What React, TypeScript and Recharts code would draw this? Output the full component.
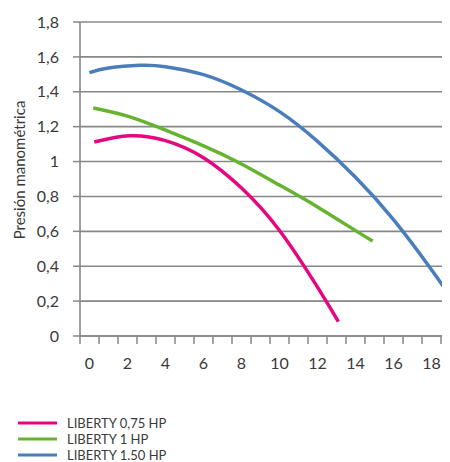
import React from "react";
import { LineChart, Line, XAxis, YAxis, CartesianGrid, Legend } from "recharts";

const flow075 = [0.25, 2.1, 4, 6, 8, 10, 12, 13.1];
const pres075 = [1.112, 1.148, 1.12, 1.022, 0.848, 0.605, 0.28, 0.082];

const flow1 = [0.2, 2, 4, 6, 7.75, 10, 12, 14, 14.9];
const pres1 = [1.307, 1.26, 1.18, 1.09, 1.0, 0.865, 0.74, 0.604, 0.545];

const flow150 = [0, 1, 2.66, 4, 6, 8, 10, 12, 14, 16, 18, 19];
const pres150 = [1.51, 1.536, 1.552, 1.544, 1.498, 1.41, 1.286, 1.116, 0.91, 0.667, 0.38, 0.225];

const yTicks = [0, 0.2, 0.4, 0.6, 0.8, 1, 1.2, 1.4, 1.6, 1.8];
const xLabels = [0, 2, 4, 6, 8, 10, 12, 14, 16, 18];

const toPoints = (xs: number[], ys: number[]) =>
  xs.map((q, i) => ({ q, p: ys[i] }));

const series = [
  { name: "LIBERTY 0,75 HP", color: "#e5077f", data: toPoints(flow075, pres075) },
  { name: "LIBERTY 1 HP", color: "#66b32f", data: toPoints(flow1, pres1) },
  { name: "LIBERTY 1.50 HP", color: "#4a7ebb", data: toPoints(flow150, pres150) },
];

// boundary marks between categories plus the labels in the middle
const xTicks: number[] = [];
for (let i = -0.5; i <= 19.5; i += 0.5) xTicks.push(i);

const FONT = "Lato, 'Noto Sans', sans-serif";
const TEXT = "#3a3a3a";
const GRID = "#878787";

const XTick = (props: any) => {
  const { x, y, payload } = props;
  const v = payload.value;
  if (!Number.isInteger(v)) {
    return <line x1={x} x2={x} y1={y - 22} y2={y - 14} stroke={GRID} strokeWidth={1.5} />;
  }
  if (!xLabels.includes(v)) return <g />;
  return (
    <text x={x} y={y} dy="0.71em" textAnchor="middle" fill={TEXT} fontSize={16} fontFamily={FONT}>
      {v}
    </text>
  );
};

const fmtY = (v: number) => (Number.isInteger(v) ? String(v) : v.toFixed(1).replace(".", ","));

const LegendBox = () => (
  <div style={{ fontFamily: FONT, fontSize: 13, color: TEXT }}>
    {series.map((s) => (
      <div key={s.name} style={{ display: "flex", alignItems: "center", height: 16 }}>
        <svg width={49} height={6}>
          <line x1={0} x2={39} y1={3} y2={3} stroke={s.color} strokeWidth={3} />
        </svg>
        <span style={{ lineHeight: "16px" }}>{s.name}</span>
      </div>
    ))}
  </div>
);

export default function App() {
  return (
    <div style={{ position: "relative", left: -8, top: -8, width: 450, height: 462, overflow: "hidden" }}>
      <LineChart width={470} height={462} margin={{ top: 22, right: 10, left: 0, bottom: 96 }}>
        <CartesianGrid vertical={false} stroke={GRID} strokeWidth={1.6} />
        <XAxis
          type="number"
          dataKey="q"
          domain={[-0.5, 19.5]}
          ticks={xTicks}
          interval={0}
          tickLine={false}
          tickSize={8}
          tickMargin={14}
          tick={<XTick />}
          height={30}
          axisLine={{ stroke: GRID, strokeWidth: 1.6 }}
        />
        <YAxis
          type="number"
          domain={[0, 1.8]}
          ticks={yTicks}
          tickFormatter={fmtY}
          width={80}
          tickSize={7}
          tickMargin={14}
          tickLine={{ stroke: GRID, strokeWidth: 1.5 }}
          axisLine={{ stroke: GRID, strokeWidth: 1.6 }}
          tick={{ fill: TEXT, fontSize: 16, fontFamily: FONT }}
          label={{
            content: () => (
              <text
                x={25}
                y={170}
                transform="rotate(-90 25 170)"
                textAnchor="middle"
                fill={TEXT}
                fontSize={15}
                fontFamily={FONT}
              >
                Presión manométrica
              </text>
            ),
          }}
        />
        {series.map((s) => (
          <Line
            key={s.name}
            data={s.data}
            dataKey="p"
            name={s.name}
            type="natural"
            stroke={s.color}
            strokeWidth={3.5}
            dot={false}
            isAnimationActive={false}
          />
        ))}
        <Legend
          layout="vertical"
          align="center"
          verticalAlign="middle"
          content={() => <LegendBox />}
          wrapperStyle={{ left: 18, top: 415, width: 200 }}
        />
      </LineChart>
    </div>
  );
}
